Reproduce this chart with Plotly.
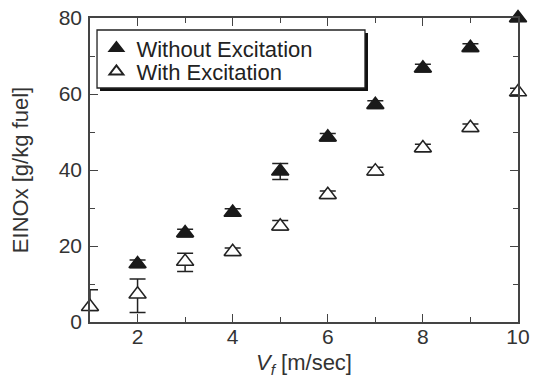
import plotly.graph_objects as go

vf = [1, 2, 3, 4, 5, 6, 7, 8, 9, 10]
without_exc = [None, 15.3, 23.4, 28.8, 39.7, 48.6, 57.2, 66.8, 72.2, 80.0]
without_err_plus = [0, 1.0, 1.0, 1.0, 2.0, 1.0, 1.0, 1.0, 1.0, 1.0]
without_err_minus = [0, 1.0, 1.0, 1.0, 2.2, 1.0, 1.0, 1.0, 1.0, 1.0]
with_exc = [4.0, 7.3, 15.9, 18.5, 25.2, 33.5, 39.7, 45.8, 51.1, 60.5]
with_err_plus = [4.5, 4.0, 2.2, 1.0, 1.5, 1.0, 1.0, 1.0, 1.0, 1.0]
with_err_minus = [1.0, 4.8, 2.6, 1.0, 1.0, 1.0, 1.0, 1.0, 1.0, 1.0]

FONT = "Liberation Sans, Arial, sans-serif"
AX = "#444444"
TXT = "#333333"

fig = go.Figure()
fig.add_trace(go.Scatter(
    x=vf, y=without_exc, mode="markers", name="Without Excitation",
    marker=dict(symbol="triangle-up", size=15, color="#1a1a1a",
                line=dict(color="#1a1a1a", width=1.5)),
    error_y=dict(type="data", array=without_err_plus, arrayminus=without_err_minus,
                 symmetric=False, color="#222222", thickness=1.5, width=8),
    cliponaxis=False, legend="legend",
))
fig.add_trace(go.Scatter(
    x=vf, y=with_exc, mode="markers", name="With Excitation",
    marker=dict(symbol="triangle-up", size=15, color="white",
                line=dict(color="#222222", width=1.5)),
    error_y=dict(type="data", array=with_err_plus, arrayminus=with_err_minus,
                 symmetric=False, color="#222222", thickness=1.5, width=8),
    cliponaxis=False, legend="legend2",
))

# legend box with drop shadow
fig.add_shape(type="rect", xref="paper", yref="paper",
              x0=0.0234, x1=0.6495, y0=0.7599, y1=0.951,
              fillcolor="#111111", line=dict(width=0), layer="above")
fig.add_shape(type="rect", xref="paper", yref="paper",
              x0=0.0164, x1=0.6425, y0=0.7697, y1=0.9605,
              fillcolor="white", line=dict(color="#222222", width=1.3), layer="above")

axis_common = dict(
    showline=True, linecolor=AX, linewidth=1.5, mirror="ticks",
    ticks="inside", ticklen=8, tickwidth=1.3, tickcolor=AX,
    showgrid=False, zeroline=False, automargin=False,
    ticklabeloverflow="allow",
    tickfont=dict(family=FONT, size=21, color=TXT),
)

fig.update_xaxes(range=[1, 10], tick0=0, dtick=2,
                 minor=dict(ticks="inside", ticklen=5, dtick=1, tickcolor=AX, tickwidth=1.3),
                 ticklabelstandoff=-5,
                 title=dict(text="<i>V<sub>f</sub></i> [m/sec]",
                            font=dict(family=FONT, size=22, color=TXT), standoff=8),
                 **axis_common)
fig.update_yaxes(range=[0, 80], tick0=0, dtick=20,
                 minor=dict(ticks="inside", ticklen=5, dtick=10, tickcolor=AX, tickwidth=1.3),
                 ticklabelstandoff=2,
                 title=dict(text="EINOx [g/kg fuel]",
                            font=dict(family=FONT, size=22, color=TXT), standoff=24),
                 **axis_common)

leg_common = dict(xanchor="left", yanchor="middle", bgcolor="rgba(0,0,0,0)",
                  borderwidth=0, font=dict(family=FONT, size=22, color="#222222"),
                  itemsizing="constant")

fig.update_layout(
    width=536, height=384,
    margin=dict(l=90, r=18, t=18, b=62, autoexpand=False),
    plot_bgcolor="white", paper_bgcolor="white",
    legend=dict(x=0.015, y=0.9003, **leg_common),
    legend2=dict(x=0.015, y=0.8234, **leg_common),
    showlegend=True,
)

fig.write_html("out.html",
               config={"displayModeBar": False},
               post_script="document.body.style.margin='0px';document.body.style.overflow='hidden';")
